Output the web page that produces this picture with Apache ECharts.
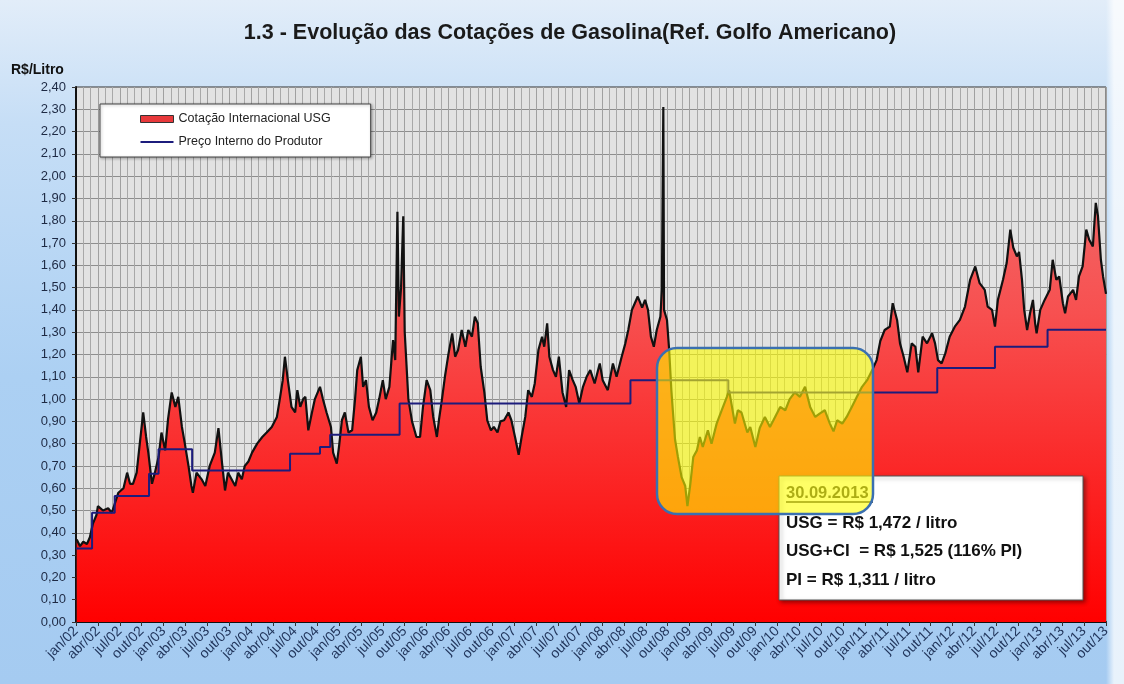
<!DOCTYPE html>
<html>
<head>
<meta charset="utf-8">
<title>Evolução das Cotações de Gasolina</title>
<script src="https://cdn.jsdelivr.net/npm/echarts@6/dist/echarts.min.js"></script>
<style>
  html, body { margin: 0; padding: 0; }
  body {
    width: 1124px; height: 684px; overflow: hidden;
    background:
      linear-gradient(to right, rgba(255,255,255,0) 1106px, rgba(255,255,255,0.75) 1114px),
      linear-gradient(to bottom, #e2edf9 0%, #c6def6 18%, #acd0f3 55%, #a5cbf1 100%);
  }
  #chart { width: 1124px; height: 684px; }
</style>
</head>
<body>
<div id="chart"></div>
<script>
// x = months since jan/2002 (0 = jan/02, 141 = out/13)
const tickLabels = [
  'jan/02','abr/02','jul/02','out/02','jan/03','abr/03','jul/03','out/03',
  'jan/04','abr/04','jul/04','out/04','jan/05','abr/05','jul/05','out/05',
  'jan/06','abr/06','jul/06','out/06','jan/07','abr/07','jul/07','out/07',
  'jan/08','abr/08','jul/08','out/08','jan/09','abr/09','jul/09','out/09',
  'jan/10','abr/10','jul/10','out/10','jan/11','abr/11','jul/11','out/11',
  'jan/12','abr/12','jul/12','out/12','jan/13','abr/13','jul/13','out/13'
];

// Cotação Internacional USG (R$/litro)
const usgMonth = [
  0.1, 0.55, 1.0, 1.5, 1.9, 2.3, 2.8, 3.0, 3.7, 4.4, 4.9, 5.3, 5.8, 6.5, 7.0, 7.4, 7.8, 8.3, 8.8, 9.2,
  9.6, 9.9, 10.4, 10.8, 11.3, 11.7, 12.2, 12.6, 13.1, 13.6, 14.0, 14.5, 14.9, 15.4, 15.8, 16.0, 16.5, 17.2, 17.7, 18.3,
  19.0, 19.5, 20.0, 20.4, 20.8, 21.3, 21.8, 22.2, 22.7, 23.1, 23.6, 24.1, 24.8, 25.5, 26.1, 26.8, 27.5, 27.9, 28.3, 28.6,
  29.0, 29.5, 30.0, 30.3, 30.7, 31.1, 31.4, 31.8, 32.3, 32.7, 33.4, 33.8, 34.3, 34.9, 35.2, 35.7, 36.0, 36.4, 36.8, 37.3,
  37.8, 38.2, 38.5, 39.0, 39.3, 39.7, 40.1, 40.6, 41.1, 41.5, 42.0, 42.4, 42.9, 43.4, 43.7, 44.0, 44.2, 44.5, 44.8, 45.0,
  45.5, 46.0, 46.6, 47.1, 47.5, 48.0, 48.5, 48.9, 49.4, 49.7, 50.1, 50.5, 51.0, 51.5, 51.9, 52.3, 52.8, 53.3, 53.7, 54.2,
  54.6, 55.0, 55.4, 55.9, 56.3, 56.8, 57.2, 57.7, 58.1, 58.6, 59.2, 59.6, 60.1, 60.6, 61.0, 61.5, 61.9, 62.4, 62.8, 63.3,
  63.8, 64.1, 64.5, 64.8, 65.3, 65.7, 66.1, 66.6, 67.1, 67.5, 68.0, 68.4, 68.9, 69.4, 69.9, 70.4, 71.0, 71.7, 72.1, 72.8,
  73.5, 74.0, 74.7, 75.2, 75.6, 76.1, 76.5, 76.9, 77.5, 77.9, 78.3, 78.7, 79.1, 79.5, 80.0, 80.2, 80.4, 80.5, 80.9, 81.2,
  81.5, 81.7, 82.0, 82.4, 82.9, 83.4, 83.7, 84.1, 84.5, 85.0, 85.4, 85.8, 86.5, 87.0, 87.7, 88.4, 89.1, 89.4, 89.8, 90.2,
  90.6, 91.1, 91.9, 92.3, 93.0, 93.6, 94.3, 95.0, 95.7, 96.4, 97.1, 97.7, 98.4, 99.1, 99.8, 100.5, 101.2, 101.8, 102.5, 103.2,
  103.7, 104.2, 104.9, 105.5, 106.2, 106.9, 107.6, 108.3, 109.0, 109.6, 110.1, 110.7, 111.4, 111.8, 112.4, 112.8, 113.3, 113.8, 114.4, 114.9,
  115.3, 115.9, 116.5, 117.2, 117.6, 118.0, 118.5, 119.0, 119.6, 120.3, 121.0, 121.7, 122.4, 123.1, 123.7, 124.4, 124.8, 125.4, 125.8, 126.2,
  126.9, 127.4, 127.9, 128.3, 128.8, 129.1, 129.5, 129.8, 130.2, 130.6, 131.0, 131.3, 131.5, 132.0, 132.6, 133.3, 133.7, 134.2, 134.6, 135.1,
  135.4, 135.8, 136.5, 136.9, 137.3, 137.8, 138.3, 138.7, 139.2, 139.6, 139.9, 140.3, 140.6, 141.0
];
const usgValue = [
  0.37, 0.34, 0.36, 0.35, 0.38, 0.44, 0.48, 0.52, 0.50, 0.51, 0.49, 0.53, 0.58, 0.60, 0.67, 0.62, 0.62, 0.67, 0.82, 0.94,
  0.83, 0.76, 0.62, 0.67, 0.74, 0.85, 0.77, 0.91, 1.03, 0.965, 1.01, 0.875, 0.80, 0.70, 0.61, 0.58, 0.67, 0.64, 0.61, 0.70,
  0.76, 0.87, 0.71, 0.59, 0.67, 0.64, 0.61, 0.67, 0.64, 0.70, 0.72, 0.76, 0.80, 0.83, 0.85, 0.875, 0.92, 1.00, 1.085, 1.19,
  1.085, 0.965, 0.94, 1.04, 0.965, 1.00, 1.01, 0.86, 0.94, 1.00, 1.055, 1.00, 0.94, 0.875, 0.76, 0.71, 0.785, 0.905, 0.94, 0.85,
  0.86, 1.00, 1.13, 1.19, 1.055, 1.085, 0.965, 0.905, 0.94, 1.00, 1.085, 1.00, 1.055, 1.265, 1.175, 1.84, 1.37, 1.50, 1.82, 1.30,
  1.00, 0.90, 0.83, 0.83, 0.965, 1.085, 1.04, 0.92, 0.83, 0.91, 1.00, 1.10, 1.205, 1.295, 1.19, 1.22, 1.31, 1.235, 1.31, 1.28,
  1.37, 1.34, 1.145, 1.03, 0.905, 0.86, 0.875, 0.85, 0.90, 0.905, 0.94, 0.905, 0.83, 0.75, 0.83, 0.92, 1.04, 1.01, 1.07, 1.22,
  1.28, 1.235, 1.34, 1.19, 1.13, 1.10, 1.19, 1.03, 0.965, 1.13, 1.085, 1.055, 0.98, 1.055, 1.10, 1.13, 1.07, 1.16, 1.085, 1.04,
  1.16, 1.10, 1.19, 1.25, 1.31, 1.40, 1.43, 1.46, 1.41, 1.445, 1.40, 1.28, 1.235, 1.31, 1.37, 1.49, 2.31, 1.40, 1.355, 1.22,
  1.04, 0.95, 0.82, 0.74, 0.65, 0.61, 0.52, 0.62, 0.74, 0.77, 0.83, 0.785, 0.86, 0.80, 0.89, 0.95, 1.01, 1.04, 0.965, 0.89,
  0.95, 0.94, 0.85, 0.875, 0.785, 0.87, 0.92, 0.875, 0.92, 0.965, 0.95, 1.00, 1.03, 1.01, 1.055, 0.965, 0.92, 0.935, 0.95, 0.89,
  0.855, 0.905, 0.89, 0.92, 0.965, 1.01, 1.055, 1.085, 1.13, 1.175, 1.26, 1.31, 1.325, 1.43, 1.355, 1.25, 1.19, 1.12, 1.25, 1.235,
  1.12, 1.28, 1.25, 1.295, 1.25, 1.175, 1.16, 1.205, 1.28, 1.325, 1.355, 1.415, 1.535, 1.595, 1.52, 1.49, 1.415, 1.40, 1.325, 1.445,
  1.535, 1.61, 1.76, 1.68, 1.64, 1.66, 1.535, 1.40, 1.31, 1.385, 1.445, 1.34, 1.295, 1.40, 1.445, 1.49, 1.625, 1.535, 1.55, 1.43,
  1.385, 1.46, 1.49, 1.445, 1.55, 1.595, 1.76, 1.715, 1.685, 1.88, 1.82, 1.625, 1.55, 1.472
];

// Preço Interno do Produtor (R$/litro), value holds until the next change
const piMonth = [0, 2.2, 5.3, 10.0, 11.3, 15.9, 29.3, 33.4, 34.8, 44.3, 75.9, 89.3, 117.9, 125.8, 133.0, 141.0];
const piValue = [0.33, 0.49, 0.565, 0.665, 0.775, 0.68, 0.755, 0.785, 0.84, 0.98, 1.085, 1.03, 1.14, 1.235, 1.311, 1.311];

const noteDate = '30.09.2013';
const noteLines = [
  'USG = R$ 1,472 / litro',
  'USG+CI  = R$ 1,525 (116% PI)',
  'PI = R$ 1,311 / litro'
];

const FONT = "'Liberation Sans', Arial, sans-serif";
const chart = echarts.init(document.getElementById('chart'));

chart.setOption({
  animation: false,
  textStyle: { fontFamily: FONT },
  grid: {
    left: 76, right: 18, top: 87, bottom: 62,
    show: true, backgroundColor: '#e2e2e2', borderColor: '#333', borderWidth: 1
  },
  legend: {
    orient: 'vertical', left: 100, top: 104,
    padding: [8, 40, 8, 40], itemGap: 9, itemWidth: 33, itemHeight: 7,
    backgroundColor: '#fff', borderColor: '#444', borderWidth: 1,
    shadowColor: 'rgba(0,0,0,0.3)', shadowBlur: 3, shadowOffsetX: 1, shadowOffsetY: 1,
    textStyle: { fontSize: 12.5, color: '#222', lineHeight: 14, fontFamily: FONT },
    data: [
      { name: 'Cotação Internacional USG', icon: 'rect',
        itemStyle: { color: '#e8393b', borderColor: '#333', borderWidth: 1 } },
      { name: 'Preço Interno do Produtor', icon: 'path://M0,0H33V2H0Z',
        itemStyle: { color: '#1c1c7c', borderWidth: 0 } }
    ]
  },
  xAxis: {
    type: 'value', min: 0, max: 141, interval: 3,
    axisLine: { show: true, onZero: false, lineStyle: { color: '#111', width: 2 } },
    axisTick: { show: true, length: 4, lineStyle: { color: '#333' } },
    minorTick: { show: true, splitNumber: 3, length: 0 },
    splitLine: { show: true, lineStyle: { color: '#a0a0a0', width: 1 } },
    minorSplitLine: { show: true, lineStyle: { color: '#a8a8a8', width: 1 } },
    axisLabel: {
      rotate: 45, fontSize: 14, color: '#22365c', margin: 7,
      formatter: v => tickLabels[Math.round(v / 3)] || ''
    }
  },
  yAxis: {
    type: 'value', min: 0, max: 2.4, interval: 0.1,
    axisLine: { show: true, lineStyle: { color: '#111', width: 2 } },
    axisTick: { show: true, length: 4, lineStyle: { color: '#333' } },
    splitLine: { lineStyle: { color: '#8e8e8e' } },
    axisLabel: {
      fontSize: 13, color: '#1e2a44', margin: 10,
      formatter: v => v.toFixed(2).replace('.', ',')
    }
  },
  series: [
    {
      name: 'Cotação Internacional USG',
      type: 'line',
      data: usgMonth.map((m, i) => [m, usgValue[i]]),
      symbol: 'none',
      lineStyle: { color: '#111', width: 2.2 },
      itemStyle: { color: '#e8393b' },
      areaStyle: {
        origin: 'start', opacity: 1,
        color: new echarts.graphic.LinearGradient(0, 0, 0, 1, [
          { offset: 0, color: '#ef7676' },
          { offset: 0.4, color: '#f75050' },
          { offset: 1, color: '#ff0000' }
        ])
      },
      z: 2
    },
    {
      name: 'Preço Interno do Produtor',
      type: 'line',
      step: 'end',
      data: piMonth.map((m, i) => [m, piValue[i]]),
      symbol: 'none',
      lineStyle: { color: '#1c1c7c', width: 2 },
      itemStyle: { color: '#1c1c7c' },
      z: 3
    }
  ],
  graphic: [
    {
      type: 'text', z: 10,
      style: {
        x: 570, y: 33, text: '1.3 - Evolução das Cotações de Gasolina(Ref. Golfo Americano)',
        font: 'bold 21.5px ' + FONT, fill: '#1a1a1a', textAlign: 'center', textVerticalAlign: 'middle'
      }
    },
    {
      type: 'text', z: 10,
      style: {
        x: 11, y: 70, text: 'R$/Litro',
        font: 'bold 14px ' + FONT, fill: '#111', textAlign: 'left', textVerticalAlign: 'middle'
      }
    },
    {
      type: 'rect', z: 10,
      shape: { x: 779, y: 476, width: 304, height: 124 },
      style: {
        fill: '#fff', stroke: '#555', lineWidth: 1,
        shadowBlur: 4, shadowColor: 'rgba(0,0,0,0.4)', shadowOffsetX: 2, shadowOffsetY: 2
      }
    },
    {
      type: 'text', z: 11,
      style: {
        x: 786, y: 493, text: noteDate,
        font: 'bold 16.5px ' + FONT, fill: '#333', textAlign: 'left', textVerticalAlign: 'middle'
      }
    },
    {
      type: 'line', z: 11,
      shape: { x1: 786, y1: 502, x2: 873, y2: 502 },
      style: { stroke: '#222', lineWidth: 1.5 }
    },
    ...noteLines.map((t, i) => ({
      type: 'text', z: 11,
      style: {
        x: 786, y: 523 + i * 28.5, text: t,
        font: 'bold 17px ' + FONT, fill: '#111', textAlign: 'left', textVerticalAlign: 'middle'
      }
    })),
    {
      type: 'rect', z: 12,
      shape: { x: 657, y: 348, width: 216, height: 166, r: 20 },
      style: { fill: 'rgba(255,255,0,0.6)', stroke: '#3b70b0', lineWidth: 2.5 }
    }
  ]
});
</script>
</body>
</html>
